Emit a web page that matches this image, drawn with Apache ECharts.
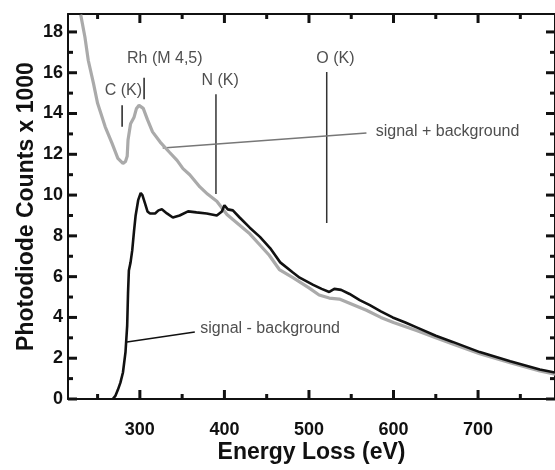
<!DOCTYPE html>
<html>
<head>
<meta charset="utf-8">
<script src="https://cdn.jsdelivr.net/npm/echarts@6/dist/echarts.min.js"></script>
<style>
  html, body { margin: 0; padding: 0; background: #fff; }
  #chart { width: 555px; height: 470px; }
</style>
</head>
<body>
<div id="chart"></div>
<script>
// axis ranges and ticks
const xRange = [215, 791];
const yRange = [0, 18.88];
const xMajor = [300, 400, 500, 600, 700];
const xMinor = [250, 350, 450, 550, 650, 750];
const yMajor = [0, 2, 4, 6, 8, 10, 12, 14, 16, 18];
const yMinor = [1, 3, 5, 7, 9, 11, 13, 15, 17];

// signal + background (grey)
const sigPlusBg = [
  [230, 18.85], [235, 17.75], [239, 16.6], [245, 15.5], [250, 14.5], [259, 13.35],
  [267, 12.55], [274, 11.8], [280, 11.55], [283, 11.65], [285, 11.9], [286, 12.7],
  [289, 13.5], [293, 13.8], [296, 14.25], [299, 14.4], [304, 14.25], [309, 13.7],
  [315, 13.1], [324, 12.6], [335, 12.1], [344, 11.7], [351, 11.3], [359, 11.0],
  [371, 10.4], [380, 10.05], [391, 9.7], [403, 9.05], [410, 8.8], [430, 8.1],
  [442, 7.55], [453, 7.05], [465, 6.35], [481, 5.95], [500, 5.45], [512, 5.1],
  [524, 4.95], [536, 4.9], [548, 4.7], [568, 4.35], [585, 4.0], [600, 3.75],
  [628, 3.35], [650, 3.0], [670, 2.7], [702, 2.22], [738, 1.78], [773, 1.38], [791, 1.22]
];

// signal - background (black)
const sigMinusBg = [
  [268, 0.0], [271, 0.15], [274, 0.45], [277, 0.8], [280, 1.3], [283, 2.3],
  [285, 3.6], [286, 5.2], [287, 6.3], [289, 6.7], [291, 7.3], [293, 8.2],
  [295, 9.0], [298, 9.75], [301, 10.1], [303, 10.0], [306, 9.6], [309, 9.2],
  [312, 9.1], [318, 9.1], [322, 9.25], [326, 9.3], [332, 9.1], [339, 8.9],
  [347, 9.0], [357, 9.2], [367, 9.15], [379, 9.1], [391, 9.0], [397, 9.2],
  [400, 9.5], [404, 9.3], [410, 9.25], [418, 8.9], [430, 8.4], [442, 7.95],
  [454, 7.4], [466, 6.7], [481, 6.2], [489, 5.95], [505, 5.6], [515, 5.4],
  [524, 5.25], [530, 5.4], [538, 5.35], [548, 5.15], [560, 4.85], [572, 4.6],
  [585, 4.3], [599, 4.0], [614, 3.75], [628, 3.5], [650, 3.1], [670, 2.8],
  [702, 2.3], [738, 1.85], [773, 1.45], [791, 1.3]
];

// edge markers and leader lines
const cEdge = [[279, 13.35], [279, 14.4]];
const rhEdge = [[305, 14.7], [305, 15.75]];
const nEdge = [[390, 10.05], [390, 14.95]];
const oEdge = [[521, 8.63], [521, 16.04]];
const plusLeader = [[327, 12.31], [568, 13.05]];
const minusLeader = [[284.7, 2.8], [365, 3.29]];

// annotation texts
const noteNames = ['C (K)', 'Rh (M 4,5)', 'N (K)', 'O (K)', 'signal + background', 'signal - background'];
const notePoints = [[280.5, 15.1], [329.5, 16.67], [395, 15.6], [531.3, 16.67], [579, 13.09], [371.5, 3.43]];
const noteAnchors = ['inside', 'inside', 'inside', 'inside', 'right', 'right'];

const font = "'Liberation Sans', Arial, sans-serif";

// tick marks on all four sides: [value, kind] kind 0/1 = x major/minor, 2/3 = y major/minor
const tickItems = []
  .concat(xMajor.map(v => [v, 0]), xMinor.map(v => [v, 1]))
  .concat(yMajor.map(v => [v, 2]), yMinor.map(v => [v, 3]));

function renderTick(params, api) {
  const v = api.value(0), kind = api.value(1);
  const len = (kind === 0 || kind === 2) ? 9 : 5;
  const style = { stroke: '#111', lineWidth: 3 };
  let a, b;
  if (kind < 2) {
    a = api.coord([v, yRange[0]]);
    b = api.coord([v, yRange[1]]);
    return {
      type: 'group', children: [
        { type: 'line', shape: { x1: a[0], y1: a[1], x2: a[0], y2: a[1] - len }, style: style },
        { type: 'line', shape: { x1: b[0], y1: b[1], x2: b[0], y2: b[1] + len }, style: style }
      ]
    };
  }
  a = api.coord([xRange[0], v]);
  b = api.coord([xRange[1], v]);
  return {
    type: 'group', children: [
      { type: 'line', shape: { x1: a[0], y1: a[1], x2: a[0] + len, y2: a[1] }, style: style },
      { type: 'line', shape: { x1: b[0], y1: b[1], x2: b[0] - len, y2: b[1] }, style: style }
    ]
  };
}

function guide(data, color, width) {
  return {
    type: 'line', data: data, symbol: 'none', silent: true, z: 1,
    lineStyle: { color: color, width: width }
  };
}

const axisLineStyle = { color: '#111', width: 2 };
const tickText = { fontFamily: font, fontWeight: 'bold', fontSize: 18, color: '#111' };
const titleText = { fontFamily: font, fontWeight: 'bold', fontSize: 23, color: '#111' };

const chart = echarts.init(document.getElementById('chart'));
chart.setOption({
  animation: false,
  backgroundColor: '#fff',
  grid: { left: 68, right: -1, top: 14, bottom: 71 },
  xAxis: [{
    type: 'value', position: 'bottom', min: xRange[0], max: xRange[1],
    name: 'Energy Loss (eV)', nameLocation: 'middle', nameGap: 42, nameMoveOverlap: false,
    nameTextStyle: titleText,
    axisLine: { onZero: false, lineStyle: axisLineStyle },
    axisTick: { show: false },
    axisLabel: { customValues: xMajor, margin: 22, ...tickText },
    splitLine: { show: false }
  }, {
    type: 'value', position: 'top', min: xRange[0], max: xRange[1],
    axisLine: { onZero: false, lineStyle: axisLineStyle },
    axisTick: { show: false }, axisLabel: { show: false }, splitLine: { show: false }
  }],
  yAxis: [{
    type: 'value', position: 'left', min: yRange[0], max: yRange[1],
    name: 'Photodiode Counts x 1000', nameLocation: 'middle', nameGap: 30, nameRotate: 90,
    nameMoveOverlap: false, nameTextStyle: titleText,
    axisLine: { onZero: false, lineStyle: axisLineStyle },
    axisTick: { show: false },
    axisLabel: { customValues: yMajor, margin: 5, ...tickText },
    splitLine: { show: false }
  }, {
    type: 'value', position: 'right', min: yRange[0], max: yRange[1],
    axisLine: { onZero: false, lineStyle: axisLineStyle },
    axisTick: { show: false }, axisLabel: { show: false }, splitLine: { show: false }
  }],
  series: [
    guide(cEdge, '#222', 1.5),
    guide(rhEdge, '#222', 1.5),
    guide(nEdge, '#333', 1.5),
    guide(oEdge, '#333', 1.5),
    guide(plusLeader, '#777', 1.5),
    guide(minusLeader, '#111', 1.5),
    {
      name: 'signal + background', type: 'line', data: sigPlusBg, symbol: 'none', z: 2,
      lineStyle: { color: '#aaaaaa', width: 3.2 }
    },
    {
      name: 'signal - background', type: 'line', data: sigMinusBg, symbol: 'none', z: 3,
      lineStyle: { color: '#111', width: 2.6 }
    },
    {
      type: 'scatter', symbolSize: 0, silent: true, z: 4,
      data: notePoints.map((p, i) => ({
        value: p, name: noteNames[i],
        label: { show: true, position: noteAnchors[i], distance: 0, formatter: noteNames[i] }
      })),
      label: { fontFamily: font, fontSize: 16, color: '#222' }
    },
    {
      type: 'custom', data: tickItems, renderItem: renderTick, clip: false, silent: true, z: 5
    }
  ]
});
</script>
</body>
</html>
